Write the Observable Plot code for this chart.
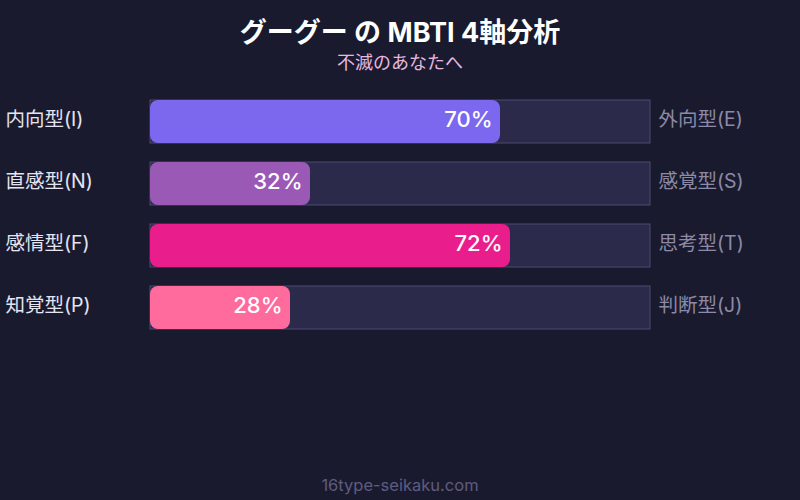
<!DOCTYPE html>
<html>
<head>
<meta charset="utf-8">
<script src="https://cdn.jsdelivr.net/npm/d3@7"></script>
<script src="https://cdn.jsdelivr.net/npm/@observablehq/plot@0.6"></script>
<style>
  html, body { margin: 0; padding: 0; background: #1a1a2e; }
  #wrap { width: 800px; height: 500px; position: relative; background: #1a1a2e; overflow: hidden;
          font-family: Inter, "Noto Sans CJK JP", sans-serif; }
  #title { position: absolute; top: 14px; left: 0; width: 800px; text-align: center;
           color: #ffffff; font-size: 27px; font-weight: 700; line-height: 38px; }
  #subtitle { position: absolute; top: 51px; left: 0; width: 800px; text-align: center;
              color: #e6b8e0; font-size: 18px; line-height: 24px; }
  #chart { position: absolute; top: 0; left: 0; }
  #footer { position: absolute; top: 473px; left: 0; width: 800px; text-align: center;
            color: #5e5c80; font-size: 16.5px; line-height: 24px; }
</style>
</head>
<body>
<div id="wrap">
  <div id="chart"></div>
  <div id="title">グーグー の MBTI 4軸分析</div>
  <div id="subtitle">不滅のあなたへ</div>
  <div id="footer">16type-seikaku.com</div>
</div>
<script>
const axes = ["IE", "NS", "FT", "PJ"];
const leftLabels = ["内向型(I)", "直感型(N)", "感情型(F)", "知覚型(P)"];
const rightLabels = ["外向型(E)", "感覚型(S)", "思考型(T)", "判断型(J)"];
const values = [70, 32, 72, 28];
const colors = ["#7b68ee", "#9b59b6", "#e91e8c", "#ff6b9d"];

const data = axes.map((a, i) => ({
  axis: a, left: leftLabels[i], right: rightLabels[i], value: values[i], color: colors[i]
}));

const chart = Plot.plot({
  width: 800,
  height: 500,
  marginTop: 100,
  marginBottom: 171,
  marginLeft: 150,
  marginRight: 150,
  style: { background: "transparent", fontFamily: "Inter, 'Noto Sans CJK JP', sans-serif" },
  x: { domain: [0, 100], axis: null },
  y: { domain: axes, axis: null, paddingInner: 0.3065, paddingOuter: 0 },
  marks: [
    Plot.barX(data, { y: "axis", x1: 0, x2: 100, fill: "#2c2a4a", stroke: "#4a4870", strokeWidth: 1 }),
    Plot.barX(data, { y: "axis", x1: 0, x2: "value", fill: "color", rx: 8 }),
    Plot.text(data, { y: "axis", x: "value", text: d => d.value + "%", dx: -8, dy: -2, textAnchor: "end",
      fill: "#ffffff", fontSize: 22, fontWeight: 500 }),
    Plot.text(data, { y: "axis", frameAnchor: "left", text: "left", dx: -145, dy: -2, textAnchor: "start",
      fill: "#e4e4f2", fontSize: 19.5 }),
    Plot.text(data, { y: "axis", x: 100, text: "right", dx: 8, dy: -2, textAnchor: "start",
      fill: "#8c8aa6", fontSize: 19.5 })
  ]
});
document.getElementById("chart").appendChild(chart);
</script>
</body>
</html>
